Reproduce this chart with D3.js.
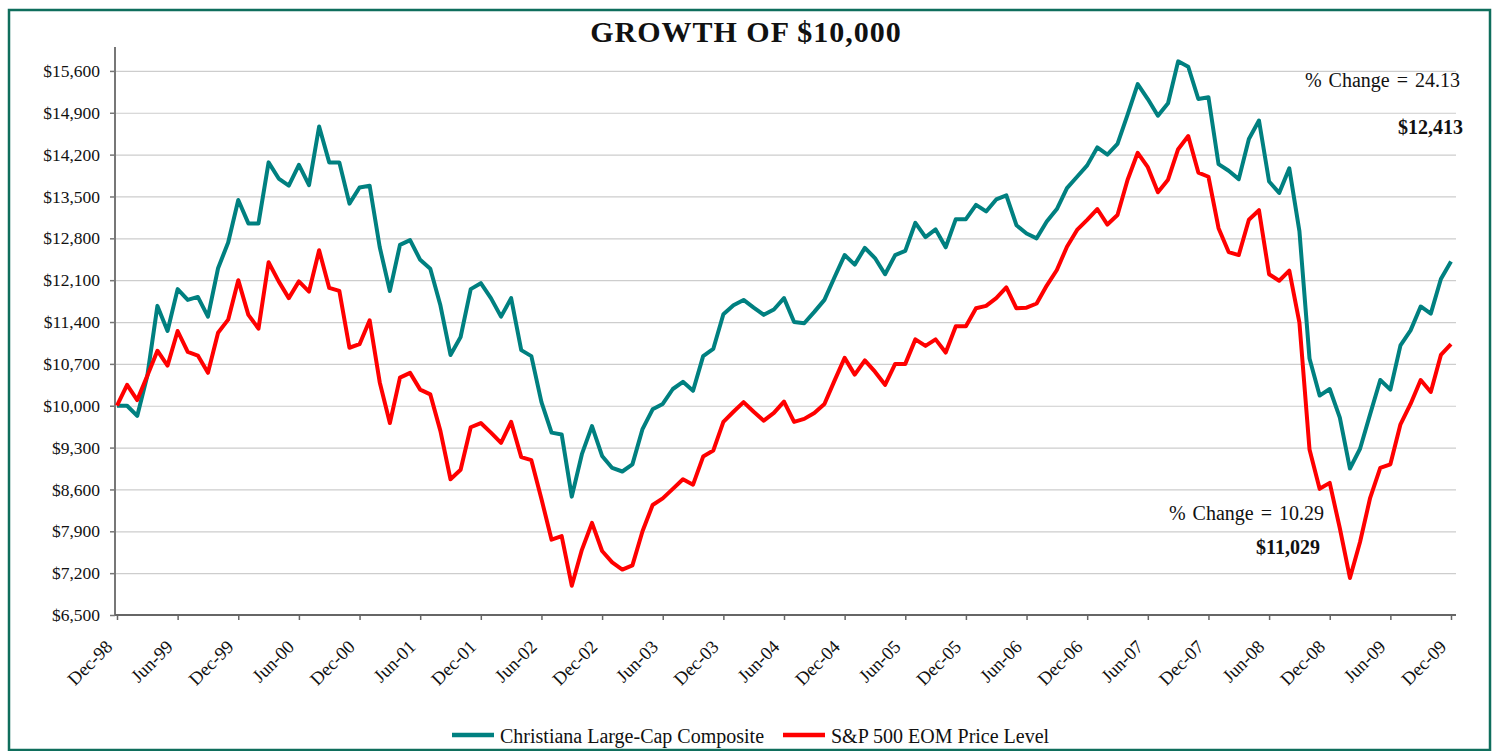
<!DOCTYPE html>
<html>
<head>
<meta charset="utf-8">
<script src="https://cdn.jsdelivr.net/npm/d3@7"></script>
<style>
  body { margin: 0; background: #fff; }
  text { font-family: "Liberation Serif", "Times New Roman", serif; fill: #111; }
</style>
</head>
<body>
<script>
// Month-end values, Dec-98 .. Dec-09 (133 months).
const composite = [
  10000, 10000, 9830, 10500, 11670, 11250, 11950, 11770, 11820, 11490, 12300, 12730,
  13440, 13050, 13050, 14070, 13800, 13680, 14030, 13690, 14670, 14070, 14070, 13380,
  13650, 13680, 12650, 11920, 12690, 12770, 12440, 12290, 11680, 10850, 11150, 11950,
  12050, 11800, 11490, 11800, 10930, 10830, 10060, 9550, 9520, 8480, 9190, 9660,
  9160, 8960, 8900, 9020, 9610, 9940, 10030, 10280, 10400, 10250, 10830, 10950,
  11530, 11680, 11770, 11640, 11520, 11610, 11800, 11400, 11380, 11570, 11770, 12150,
  12520, 12360, 12640, 12470, 12200, 12520, 12590, 13060, 12820, 12950, 12650, 13120,
  13120, 13360, 13250, 13450, 13520, 13020, 12880, 12800, 13080, 13290, 13640, 13830,
  14020, 14320, 14200, 14380, 14870, 15380, 15130, 14850, 15060, 15760, 15670, 15130,
  15160, 14040, 13930, 13790, 14460, 14770, 13750, 13560, 13970, 12920, 10790, 10170,
  10280, 9800, 8950, 9280, 9860, 10430, 10270, 11010, 11260, 11660, 11540, 12120,
  12413
];

const sp500 = [
  10000, 10350, 10095, 10500, 10920, 10670, 11250, 10900, 10840, 10550, 11220, 11440,
  12100, 11520, 11290, 12400, 12080, 11800, 12080, 11910, 12600, 11970, 11920, 10970,
  11030, 11430, 10390, 9710, 10470, 10550, 10270, 10190, 9580, 8770, 8930, 9640,
  9710, 9550, 9380, 9730, 9140, 9090, 8440, 7760, 7820, 6990, 7590, 8040,
  7570, 7380, 7260, 7330, 7900, 8340, 8450, 8610, 8770, 8680, 9150, 9250,
  9730, 9900, 10060, 9900, 9750, 9880, 10070, 9730, 9780, 9880, 10030, 10420,
  10800, 10520, 10760, 10570, 10350, 10700, 10700, 11110, 11000, 11110, 10890, 11330,
  11330, 11630, 11670, 11800, 11980, 11630, 11640, 11710, 12010, 12270, 12660, 12940,
  13110, 13290, 13030, 13190, 13780, 14230, 13990, 13570, 13780, 14290, 14510, 13900,
  13830, 12970, 12570, 12520, 13110, 13270, 12200, 12090, 12260, 11390, 9270, 8610,
  8710, 7950, 7120, 7720, 8460, 8960, 9020, 9690, 10030, 10430, 10230, 10850,
  11029
];

// Tick labels, one every 6 months.
const tickLabels = [
  "Dec-98", "Jun-99", "Dec-99", "Jun-00", "Dec-00", "Jun-01", "Dec-01", "Jun-02",
  "Dec-02", "Jun-03", "Dec-03", "Jun-04", "Dec-04", "Jun-05", "Dec-05", "Jun-06",
  "Dec-06", "Jun-07", "Dec-07", "Jun-08", "Dec-08", "Jun-09", "Dec-09"
];

const yTicks = d3.range(6500, 15601, 700);

const seriesNames = ["Christiana Large-Cap Composite", "S&P 500 EOM Price Level"];
const seriesColors = ["#008080", "#ff0000"];

const W = 1496, H = 751;
const plotLeft = 115, plotRight = 1456, plotTop = 47, plotBottom = 615;

const svg = d3.select("body").append("svg")
    .attr("width", W)
    .attr("height", H);

// Outer green frame.
svg.append("rect")
    .attr("x", 9).attr("y", 10)
    .attr("width", 1481).attr("height", 740)
    .attr("fill", "none")
    .attr("stroke", "#0f6e5c")
    .attr("stroke-width", 2.5);

const x = d3.scaleLinear().domain([0, 132]).range([117, 1451]);
const y = d3.scaleLinear().domain([6500, 16000]).range([plotBottom, plotTop]);

// Gridlines.
svg.append("g")
    .attr("transform", `translate(${plotLeft},0)`)
    .call(d3.axisLeft(y).tickValues(yTicks.slice(1)).tickSize(-(plotRight - plotLeft)).tickFormat(""))
    .call(g => g.select(".domain").remove())
    .call(g => g.selectAll("line").attr("stroke", "#cdcdcd").attr("stroke-width", 1.2));

// Y axis.
svg.append("g")
    .attr("transform", `translate(${plotLeft},0)`)
    .call(d3.axisLeft(y).tickValues(yTicks).tickSize(5).tickPadding(10)
        .tickFormat(d => "$" + d3.format(",")(d)))
    .call(g => g.select(".domain").remove())
    .call(g => g.selectAll("line").attr("stroke", "#777").attr("stroke-width", 1.5))
    .call(g => g.selectAll("text")
        .style("font-size", "17.5px")
        .attr("fill", "#111"));

svg.append("line")
    .attr("x1", plotLeft).attr("x2", plotLeft)
    .attr("y1", plotTop).attr("y2", plotBottom)
    .attr("stroke", "#777").attr("stroke-width", 2);

// X axis.
svg.append("g")
    .attr("transform", `translate(0,${plotBottom})`)
    .call(d3.axisBottom(x).tickValues(d3.range(0, 133, 6)).tickSize(5)
        .tickFormat((d, i) => tickLabels[i]))
    .call(g => g.select(".domain").remove())
    .call(g => g.selectAll("line").attr("stroke", "#666").attr("stroke-width", 1.5))
    .call(g => g.selectAll("text")
        .style("font-size", "18.5px")
        .attr("fill", "#111")
        .attr("text-anchor", "end")
        .attr("dy", 0)
        .attr("y", 0)
        .attr("transform", "translate(-4,33) rotate(-45)"));

svg.append("line")
    .attr("x1", plotLeft).attr("x2", plotRight)
    .attr("y1", plotBottom).attr("y2", plotBottom)
    .attr("stroke", "#666").attr("stroke-width", 2);

// Lines.
const line = d3.line()
    .x((d, i) => x(i))
    .y(d => y(d));

[composite, sp500].forEach((s, k) => {
    svg.append("path")
        .datum(s)
        .attr("fill", "none")
        .attr("stroke", seriesColors[k])
        .attr("stroke-width", 4)
        .attr("stroke-linejoin", "round")
        .attr("d", line);
});

// Title.
svg.append("text")
    .attr("x", 746).attr("y", 42)
    .attr("text-anchor", "middle")
    .style("font-size", "30px")
    .style("font-weight", "bold")
    .style("letter-spacing", "1px")
    .attr("fill", "#222")
    .text("GROWTH OF $10,000");

// Annotations.
const pct = d => ((d - 10000) / 100).toFixed(2);
svg.append("text")
    .attr("x", 1460).attr("y", 87)
    .attr("text-anchor", "end")
    .style("font-size", "20px")
    .style("word-spacing", "2px")
    .text(`% Change = ${pct(composite[composite.length - 1])}`);
svg.append("text")
    .attr("x", 1463).attr("y", 134)
    .attr("text-anchor", "end")
    .style("font-size", "20px")
    .style("font-weight", "bold")
    .text("$" + d3.format(",")(composite[composite.length - 1]));
svg.append("text")
    .attr("x", 1324).attr("y", 520)
    .attr("text-anchor", "end")
    .style("font-size", "20px")
    .style("word-spacing", "2px")
    .text(`% Change = ${pct(sp500[sp500.length - 1])}`);
svg.append("text")
    .attr("x", 1320).attr("y", 554)
    .attr("text-anchor", "end")
    .style("font-size", "20px")
    .style("font-weight", "bold")
    .text("$" + d3.format(",")(sp500[sp500.length - 1]));

// Legend.
const legendX = [452, 783];
seriesNames.forEach((name, k) => {
    svg.append("line")
        .attr("x1", legendX[k]).attr("x2", legendX[k] + 42)
        .attr("y1", 735).attr("y2", 735)
        .attr("stroke", seriesColors[k])
        .attr("stroke-width", 4.5);
    svg.append("text")
        .attr("x", legendX[k] + 48).attr("y", 743)
        .style("font-size", "20px")
        .text(name);
});
</script>
</body>
</html>
